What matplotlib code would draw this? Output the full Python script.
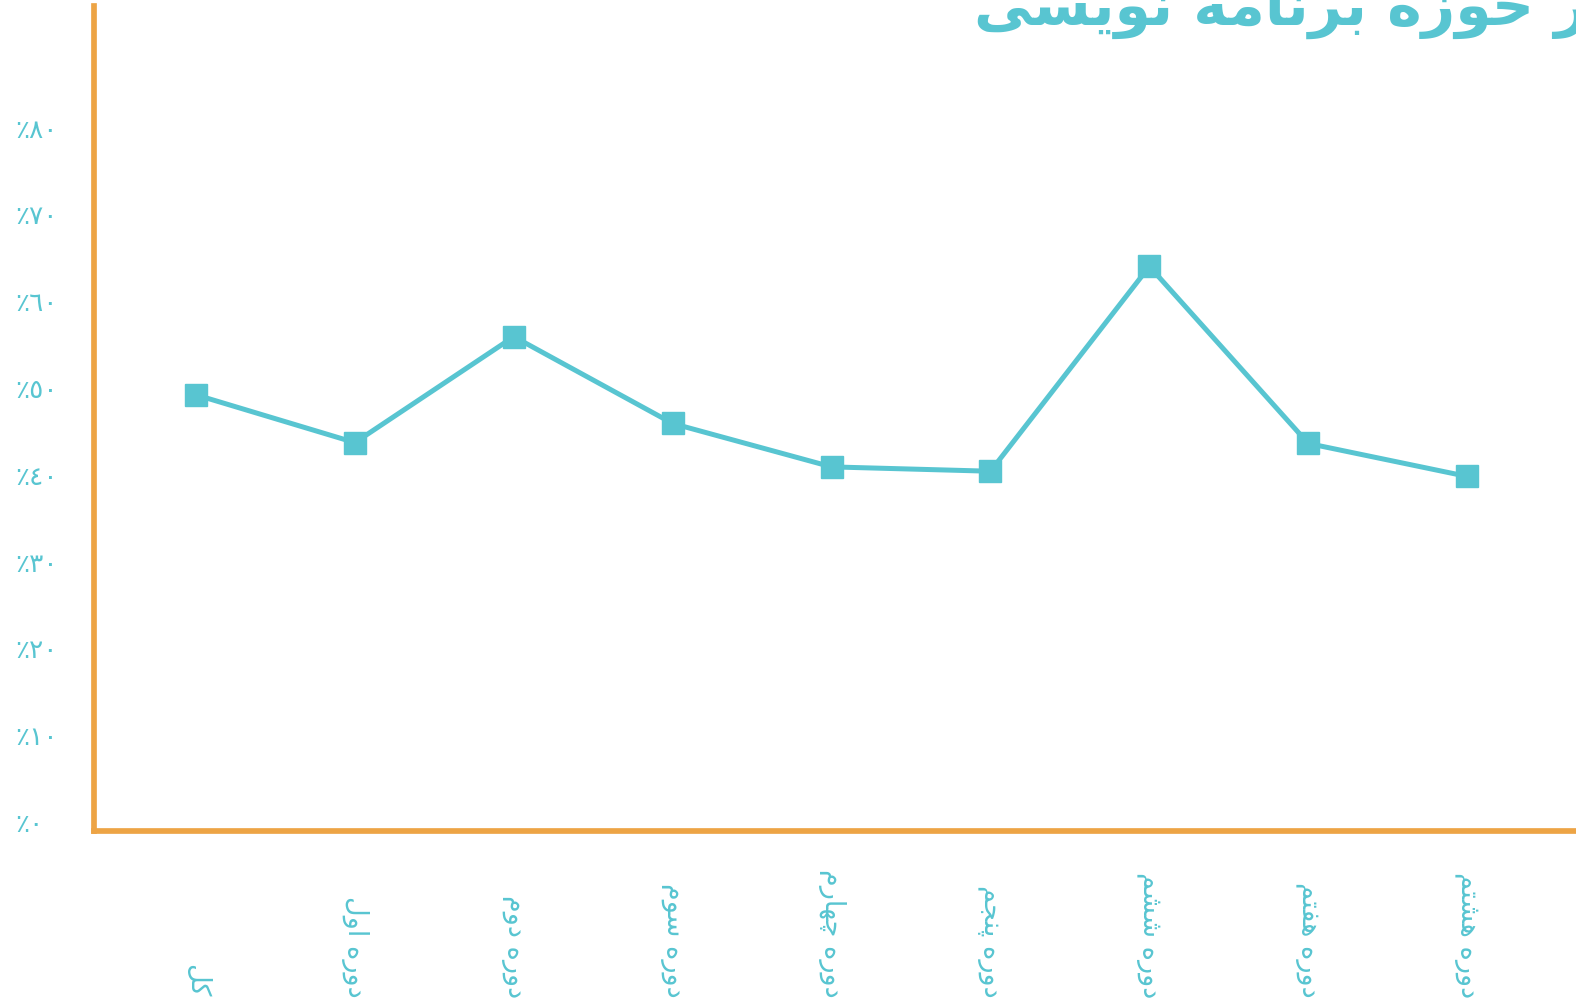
import matplotlib
matplotlib.use('Agg')
import matplotlib.pyplot as plt

# ---------------- data ----------------
categories = ['کل', 'دوره اول', 'دوره دوم', 'دوره سوم', 'دوره چهارم',
              'دوره پنجم', 'دوره ششم', 'دوره هفتم', 'دوره هشتم']
values = [49.1, 43.6, 55.8, 45.8, 40.8, 40.3, 63.9, 43.5, 39.7]
ytick_values = [0, 10, 20, 30, 40, 50, 60, 70, 80]
ytick_labels = ['٪٠', '٪١٠', '٪٢٠', '٪٣٠', '٪٤٠', '٪٥٠', '٪٦٠', '٪٧٠', '٪٨٠']
title = 'در حوزه برنامه نویسی'

TEAL = '#58C5D1'
ORANGE = '#EDA445'

# ------------- minimal Arabic/Persian shaping -------------
# (isolated, final, initial, medial)
FORMS = {
    'ا': ('\uFE8D', '\uFE8E', None, None),
    'آ': ('\uFE81', '\uFE82', None, None),
    'ب': ('\uFE8F', '\uFE90', '\uFE91', '\uFE92'),
    'پ': ('\uFB56', '\uFB57', '\uFB58', '\uFB59'),
    'ت': ('\uFE95', '\uFE96', '\uFE97', '\uFE98'),
    'ث': ('\uFE99', '\uFE9A', '\uFE9B', '\uFE9C'),
    'ج': ('\uFE9D', '\uFE9E', '\uFE9F', '\uFEA0'),
    'چ': ('\uFB7A', '\uFB7B', '\uFB7C', '\uFB7D'),
    'ح': ('\uFEA1', '\uFEA2', '\uFEA3', '\uFEA4'),
    'خ': ('\uFEA5', '\uFEA6', '\uFEA7', '\uFEA8'),
    'د': ('\uFEA9', '\uFEAA', None, None),
    'ذ': ('\uFEAB', '\uFEAC', None, None),
    'ر': ('\uFEAD', '\uFEAE', None, None),
    'ز': ('\uFEAF', '\uFEB0', None, None),
    'ژ': ('\uFB8A', '\uFB8B', None, None),
    'س': ('\uFEB1', '\uFEB2', '\uFEB3', '\uFEB4'),
    'ش': ('\uFEB5', '\uFEB6', '\uFEB7', '\uFEB8'),
    'ص': ('\uFEB9', '\uFEBA', '\uFEBB', '\uFEBC'),
    'ض': ('\uFEBD', '\uFEBE', '\uFEBF', '\uFEC0'),
    'ط': ('\uFEC1', '\uFEC2', '\uFEC3', '\uFEC4'),
    'ظ': ('\uFEC5', '\uFEC6', '\uFEC7', '\uFEC8'),
    'ع': ('\uFEC9', '\uFECA', '\uFECB', '\uFECC'),
    'غ': ('\uFECD', '\uFECE', '\uFECF', '\uFED0'),
    'ف': ('\uFED1', '\uFED2', '\uFED3', '\uFED4'),
    'ق': ('\uFED5', '\uFED6', '\uFED7', '\uFED8'),
    'ک': ('\uFB8E', '\uFB8F', '\uFB90', '\uFB91'),
    'گ': ('\uFB92', '\uFB93', '\uFB94', '\uFB95'),
    'ل': ('\uFEDD', '\uFEDE', '\uFEDF', '\uFEE0'),
    'م': ('\uFEE1', '\uFEE2', '\uFEE3', '\uFEE4'),
    'ن': ('\uFEE5', '\uFEE6', '\uFEE7', '\uFEE8'),
    'ه': ('\uFEE9', '\uFEEA', '\uFEEB', '\uFEEC'),
    'و': ('\uFEED', '\uFEEE', None, None),
    'ی': ('\uFBFC', '\uFBFD', '\uFBFE', '\uFBFF'),
}


def shape(text):
    chars = list(text)
    out = []
    n = len(chars)
    for i, c in enumerate(chars):
        if c not in FORMS:
            out.append(c)
            continue
        f = FORMS[c]
        prev = chars[i - 1] if i > 0 else None
        nxt = chars[i + 1] if i < n - 1 else None
        join_prev = prev in FORMS and FORMS[prev][2] is not None
        join_next = f[2] is not None and nxt in FORMS
        if join_prev and join_next:
            out.append(f[3])
        elif join_prev:
            out.append(f[1])
        elif join_next:
            out.append(f[2])
        else:
            out.append(f[0])
    return ''.join(out)[::-1]


# ---------------- figure ----------------
W, H = 1576, 1003
fig = plt.figure(figsize=(W / 100, H / 100), dpi=100)
fig.patch.set_facecolor('white')

ax = fig.add_axes([94 / W, (H - 832) / H, 1 - 94 / W, (832 - 7) / H])

x = list(range(len(categories)))
ax.plot(x, values, color=TEAL, linewidth=3.6, marker='s', markersize=16.5,
        markerfacecolor=TEAL, markeredgecolor=TEAL, solid_joinstyle='miter',
        zorder=3, clip_on=False)

ax.set_xlim(-0.642, 8.685)
ax.set_ylim(-1.15, 93.9)

for s in ['top', 'right']:
    ax.spines[s].set_visible(False)
for s in ['left', 'bottom']:
    ax.spines[s].set_color(ORANGE)
    ax.spines[s].set_linewidth(4.1)

ax.set_yticks(ytick_values)
ax.set_yticklabels(ytick_labels, fontsize=19, color=TEAL, family='DejaVu Sans')
ax.tick_params(axis='y', length=0, pad=56.9)
for lab in ax.get_yticklabels():
    lab.set_horizontalalignment('left')

ax.set_xticks(x)
ax.set_xticklabels([shape(c) for c in categories], fontsize=19.5, color=TEAL,
                   rotation=-90, va='bottom', ha='center', family='DejaVu Sans')
ax.tick_params(axis='x', length=0, pad=119.5)

fig.text((W + 42) / W, 1 - 25 / H, shape(title), ha='right', va='baseline',
         fontsize=42, fontweight='bold', color=TEAL, family='DejaVu Sans')

fig.savefig('out.png', dpi=100, facecolor='white')
